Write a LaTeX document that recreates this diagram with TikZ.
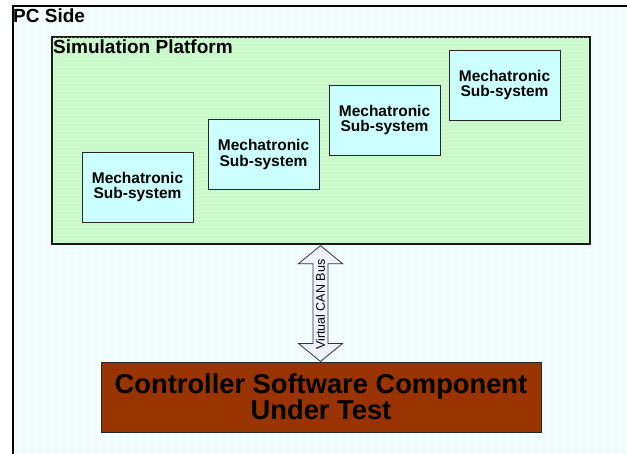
\documentclass[tikz,border=0pt]{standalone}
\usepackage{fontspec}
\setmainfont{Liberation Sans}
\usetikzlibrary{calc,patterns.meta}
\definecolor{pcbg}{RGB}{243,253,253}
\definecolor{pcdot}{RGB}{205,228,232}
\definecolor{simgreen}{RGB}{205,250,205}
\definecolor{simdot}{RGB}{178,230,178}
\definecolor{subcyan}{RGB}{204,255,255}
\definecolor{ctlbrown}{RGB}{153,51,0}
\definecolor{busfill}{RGB}{240,242,255}
\tikzset{
  region/.style={draw=black!90, line width=1.3pt, inner sep=0pt},
  subbox/.style={draw=black!85, line width=1pt, fill=subcyan,
    minimum width=111pt, minimum height=70pt, inner sep=0pt, align=center,
    font=\bfseries\fontsize{15.5}{15.5}\selectfont},
  ctlbox/.style={draw=black!85, line width=1pt, fill=ctlbrown,
    minimum width=440pt, minimum height=70pt, inner sep=0pt, align=center,
    font=\bfseries\fontsize{27.3}{26}\selectfont},
  title/.style={anchor=north west, inner sep=0pt,
    font=\bfseries\fontsize{19}{19}\selectfont},
  busarrow/.style={draw=black!80, line width=0.8pt, fill=busfill, line join=miter},
}
\begin{document}
\begin{tikzpicture}[x=1pt,y=-1pt]
\useasboundingbox (0,0) rectangle (627,453);
\clip (0,0) rectangle (627,453);
\fill[white] (0,0) rectangle (627,453);

% PC side frame with dotted background
\path[fill=pcbg] (13,6) rectangle (640,470);
\path[pattern={Dots[distance=8pt,radius=0.55pt]}, pattern color=pcdot] (13,6) rectangle (640,470);
\draw[line width=1.3pt, black] (640,6) -- (13,6) -- (13,470);
\node[title] (pcside) at (13,9) {PC Side};

% Simulation platform
\node[region, fill=simgreen, minimum width=538pt, minimum height=207pt,
  postaction={pattern={Dots[distance=4pt,radius=0.5pt]}, pattern color=simdot}]
  (plat) at (321,140.5) {};
\node[title] (platlabel) at (53,39.5) {Simulation Platform};

% Mechatronic sub-systems
\node[subbox] (m1) at (137.5,187) {Mechatronic\\Sub-system};
\node[subbox] (m2) at (263.5,154.5) {Mechatronic\\Sub-system};
\node[subbox] (m3) at (384.5,120) {Mechatronic\\Sub-system};
\node[subbox] (m4) at (504.5,85) {Mechatronic\\Sub-system};

% Controller under test
\node[ctlbox] (ctl) at (321,397) {Controller Software Component\\Under Test};

% Virtual CAN bus double arrow
\coordinate (bt) at ($(plat.south)+(-0.5,1)$);
\coordinate (bb) at ($(ctl.north)+(-0.5,0)$);
\draw[busarrow] (bt) -- ($(bt)+(22,18)$) -- ($(bt)+(7.5,18)$)
  -- ($(bb)+(7.5,-18)$) -- ($(bb)+(22,-18)$) -- (bb)
  -- ($(bb)+(-22,-18)$) -- ($(bb)+(-7.5,-18)$)
  -- ($(bt)+(-7.5,18)$) -- ($(bt)+(-22,18)$) -- cycle;
\node[rotate=90, inner sep=0pt, font=\fontsize{12.5}{12.5}\selectfont]
  (buslabel) at ($(bt)!0.51!(bb)$) {Virtual CAN Bus};
\end{tikzpicture}
\end{document}
